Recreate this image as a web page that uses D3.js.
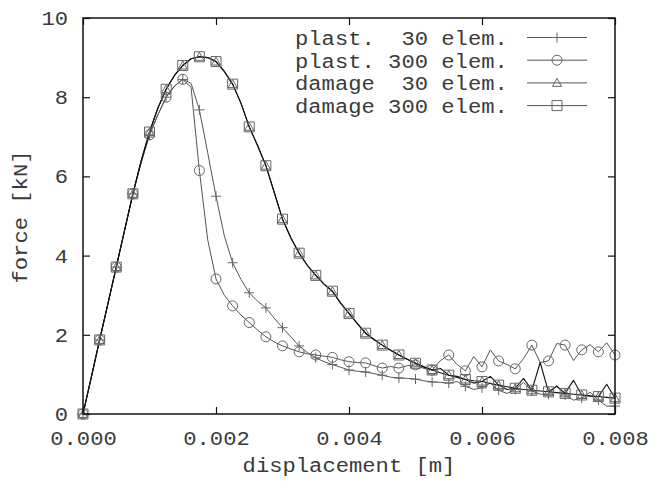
<!DOCTYPE html>
<html>
<head>
<meta charset="utf-8">
<script src="https://cdn.jsdelivr.net/npm/d3@7"></script>
<style>
  html, body { margin: 0; padding: 0; background: #fff; }
  svg { display: block; }
  text { font-family: "Liberation Mono", "DejaVu Sans Mono", monospace; fill: #3a3a3a; }
</style>
</head>
<body>
<svg id="chart" width="656" height="482"></svg>
<script>
// ---- data ----
const displacement = [
  0.000000, 0.000125, 0.000250, 0.000375, 0.000500, 0.000625, 0.000750, 0.000875,
  0.001000, 0.001125, 0.001250, 0.001375, 0.001500, 0.001625, 0.001750, 0.001875,
  0.002000, 0.002125, 0.002250, 0.002375, 0.002500, 0.002625, 0.002750, 0.002875,
  0.003000, 0.003125, 0.003250, 0.003375, 0.003500, 0.003625, 0.003750, 0.003875,
  0.004000, 0.004125, 0.004250, 0.004375, 0.004500, 0.004625, 0.004750, 0.004875,
  0.005000, 0.005125, 0.005250, 0.005375, 0.005500, 0.005625, 0.005750, 0.005875,
  0.006000, 0.006125, 0.006250, 0.006375, 0.006500, 0.006625, 0.006750, 0.006875,
  0.007000, 0.007125, 0.007250, 0.007375, 0.007500, 0.007625, 0.007750, 0.007875,
  0.008000
];
const plast30 = [
  0.00, 0.93, 1.87, 2.79, 3.71, 4.64, 5.56, 6.35,
  7.05, 7.55, 8.00, 8.28, 8.45, 8.35, 7.68, 6.60,
  5.50, 4.50, 3.82, 3.40, 3.06, 2.85, 2.68, 2.42,
  2.18, 1.95, 1.72, 1.55, 1.42, 1.32, 1.25, 1.18,
  1.11, 1.08, 1.06, 1.02, 0.98, 0.93, 0.91, 0.90,
  0.88, 0.84, 0.81, 0.80, 0.78, 0.82, 0.70, 0.62,
  0.66, 0.78, 0.60, 0.52, 0.62, 0.80, 0.58, 0.50,
  0.50, 0.72, 0.48, 0.35, 0.40, 0.55, 0.35, 0.20,
  0.20
];
const plast300 = [
  0.00, 0.93, 1.87, 2.79, 3.71, 4.64, 5.56, 6.35,
  7.05, 7.55, 8.00, 8.28, 8.45, 8.25, 6.15, 4.40,
  3.41, 3.00, 2.73, 2.50, 2.31, 2.12, 1.95, 1.82,
  1.72, 1.64, 1.57, 1.52, 1.49, 1.46, 1.43, 1.37,
  1.32, 1.30, 1.29, 1.22, 1.16, 1.20, 1.16, 1.22,
  1.24, 1.15, 1.11, 1.35, 1.49, 1.25, 1.09, 1.45,
  1.19, 1.62, 1.34, 1.25, 1.14, 1.40, 1.74, 1.30,
  1.34, 1.78, 1.74, 1.35, 1.62, 1.75, 1.57, 1.80,
  1.49
];
const damage30 = [
  0.00, 0.93, 1.87, 2.79, 3.71, 4.64, 5.56, 6.40,
  7.12, 7.72, 8.20, 8.55, 8.80, 8.97, 9.02, 9.00,
  8.90, 8.65, 8.33, 7.85, 7.25, 6.78, 6.27, 5.60,
  4.92, 4.45, 4.06, 3.75, 3.50, 3.28, 3.10, 2.80,
  2.54, 2.28, 2.04, 1.88, 1.74, 1.61, 1.49, 1.38,
  1.28, 1.19, 1.11, 1.15, 0.98, 0.95, 0.87, 0.78,
  0.82, 0.95, 0.73, 0.62, 0.65, 0.90, 0.60, 1.30,
  0.56, 0.70, 0.52, 0.85, 0.48, 0.45, 0.44, 0.75,
  0.40
];
const damage300 = [
  0.00, 0.93, 1.87, 2.79, 3.71, 4.64, 5.56, 6.40,
  7.12, 7.72, 8.20, 8.55, 8.80, 8.97, 9.02, 9.00,
  8.90, 8.65, 8.33, 7.85, 7.25, 6.78, 6.27, 5.60,
  4.92, 4.45, 4.06, 3.75, 3.50, 3.28, 3.10, 2.80,
  2.54, 2.28, 2.04, 1.88, 1.74, 1.61, 1.49, 1.38,
  1.28, 1.19, 1.11, 1.04, 0.98, 0.92, 0.87, 0.84,
  0.82, 0.77, 0.73, 0.69, 0.65, 0.62, 0.60, 0.58,
  0.56, 0.54, 0.52, 0.50, 0.48, 0.46, 0.44, 0.42,
  0.40
];
const seriesNames = ["plast.  30 elem.", "plast. 300 elem.", "damage  30 elem.", "damage 300 elem."];
const xTicks = [0, 0.002, 0.004, 0.006, 0.008];
const xTickLabels = ["0.000", "0.002", "0.004", "0.006", "0.008"];
const yTicks = [0, 2, 4, 6, 8, 10];
const xTitle = "displacement [m]";
const yTitle = "force [kN]";

// ---- drawing ----
const svg = d3.select("#chart");
const x = d3.scaleLinear().domain([0, 0.008]).range([83, 615]);
const y = d3.scaleLinear().domain([0, 10]).range([414, 18]);

const series = [
  { name: seriesNames[0], values: plast30,  marker: "plus",     line: "#555", width: 1 },
  { name: seriesNames[1], values: plast300, marker: "circle",   line: "#555", width: 1 },
  { name: seriesNames[2], values: damage30, marker: "triangle", line: "#111", width: 1.1 },
  { name: seriesNames[3], values: damage300, marker: "square",  line: "#111", width: 1.1 }
];

function markerPath(type) {
  if (type === "plus") return "M-5,0H5M0,-5V5";
  if (type === "circle") return "M5,0A5,5 0 1,1 -5,0A5,5 0 1,1 5,0Z";
  if (type === "triangle") return "M0,-4.5L4.5,3.5L-4.5,3.5Z";
  return "M-5,-5H5V5H-5Z";
}

const fs = 20;
const cell = 13.3; // horizontal advance per character (stretched monospace)
const axisFont = g => g.selectAll("text")
  .attr("font-family", "Liberation Mono, DejaVu Sans Mono, monospace")
  .attr("font-size", fs).attr("fill", "#3a3a3a");

// bottom axis with labels, ticks pointing inward
svg.append("g").attr("transform", "translate(0,414)")
  .call(d3.axisBottom(x).tickValues(xTicks).tickFormat((d, i) => xTickLabels[i])
    .tickSizeInner(-7).tickSizeOuter(0).tickPadding(17))
  .call(g => g.select(".domain").remove())
  .call(axisFont);
// top mirror ticks
svg.append("g").attr("transform", "translate(0,18)")
  .call(d3.axisBottom(x).tickValues(xTicks).tickFormat("").tickSizeInner(7).tickSizeOuter(0))
  .call(g => g.select(".domain").remove());
// left axis with labels
svg.append("g").attr("transform", "translate(83,0)")
  .call(d3.axisLeft(y).tickValues(yTicks).tickFormat(d3.format("d"))
    .tickSizeInner(-7).tickSizeOuter(0).tickPadding(15))
  .call(g => g.select(".domain").remove())
  .call(axisFont);
// right mirror ticks
svg.append("g").attr("transform", "translate(615,0)")
  .call(d3.axisLeft(y).tickValues(yTicks).tickFormat("").tickSizeInner(7).tickSizeOuter(0))
  .call(g => g.select(".domain").remove());

svg.selectAll(".tick line").attr("stroke", "#111").attr("stroke-width", 1.2);

// data lines
const line = d3.line().x((d, i) => x(displacement[i])).y(d => y(d));
series.forEach(s => {
  svg.append("path").attr("d", line(s.values))
    .attr("fill", "none").attr("stroke", s.line).attr("stroke-width", s.width)
    .attr("stroke-linejoin", "round");
});
series.forEach(s => {
  svg.append("g").selectAll("path")
    .data(s.values.map((v, i) => [displacement[i], v]).filter((d, i) => i % 2 === 0))
    .join("path")
    .attr("transform", d => `translate(${x(d[0])},${y(d[1])})`)
    .attr("d", markerPath(s.marker))
    .attr("fill", "none").attr("stroke", "#666").attr("stroke-width", 1);
});

// frame
svg.append("rect").attr("x", 83).attr("y", 18).attr("width", 532).attr("height", 396)
  .attr("fill", "none").attr("stroke", "#111").attr("stroke-width", 1.5);

// legend
series.forEach((s, i) => {
  const ly = 37.5 + i * 22.7;
  svg.append("text").attr("x", 295).attr("y", ly + 7.5)
    .attr("font-size", fs).attr("xml:space", "preserve").style("white-space", "pre")
    .text(s.name);
  svg.append("line").attr("x1", 527).attr("x2", 587).attr("y1", ly).attr("y2", ly)
    .attr("stroke", "#555").attr("stroke-width", 1);
  svg.append("path").attr("transform", `translate(557,${ly})`).attr("d", markerPath(s.marker))
    .attr("fill", "none").attr("stroke", "#666").attr("stroke-width", 1);
});

// axis titles
svg.append("text").attr("x", 349).attr("y", 472).attr("text-anchor", "middle")
  .attr("font-size", fs).text(xTitle);
svg.append("text").attr("transform", "translate(27,217) rotate(-90)").attr("text-anchor", "middle")
  .attr("font-size", fs).text(yTitle);

// stretch the monospace text horizontally like the reference
svg.selectAll("text").each(function () {
  const t = d3.select(this).text();
  if (t.length) d3.select(this).attr("textLength", t.length * cell).attr("lengthAdjust", "spacingAndGlyphs");
});
</script>
</body>
</html>
